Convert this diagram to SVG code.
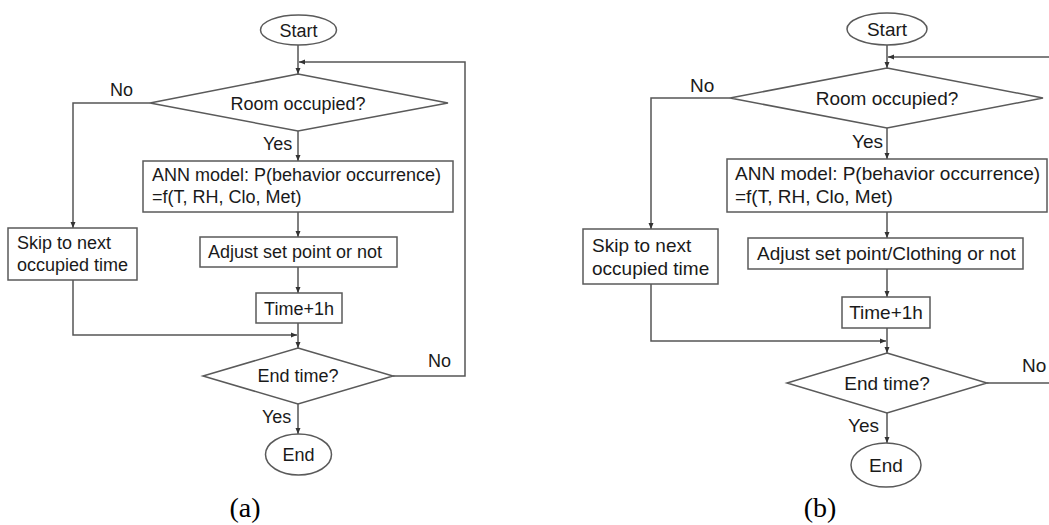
<svg xmlns="http://www.w3.org/2000/svg" width="1049" height="525" viewBox="0 0 1049 525">
<style>
.s{fill:#fff;stroke:#5a5a5a;stroke-width:1.5}
.c{fill:none;stroke:#555;stroke-width:1.5}
.t{font-family:"Liberation Sans",Arial,sans-serif;font-size:18px;fill:#1a1a1a}
.t2{font-family:"Liberation Sans",Arial,sans-serif;font-size:19px;fill:#1a1a1a}
.m{text-anchor:middle}
.cap{font-family:"Liberation Serif","Times New Roman",serif;font-size:28px;fill:#000;text-anchor:middle}
</style>
<defs>
<marker id="ah" markerWidth="6" markerHeight="6" refX="6" refY="3" orient="auto" markerUnits="userSpaceOnUse">
<path d="M0,0.5 L6,3 L0,5.5 z" fill="#333"/>
</marker>
</defs>
<rect width="1049" height="525" fill="#fff"/>

<!-- Diagram (a) -->
<g id="a-connectors">
<path class="c" d="M298,45 V74" marker-end="url(#ah)"/>
<path class="c" d="M393,376 H465 V62 H299" marker-end="url(#ah)"/>
<path class="c" d="M150,103 H73 V228" marker-end="url(#ah)"/>
<path class="c" d="M298,131 V161" marker-end="url(#ah)"/>
<path class="c" d="M298,212 V237" marker-end="url(#ah)"/>
<path class="c" d="M298,267 V293" marker-end="url(#ah)"/>
<path class="c" d="M298,323 V348" marker-end="url(#ah)"/>
<path class="c" d="M73,280 V335 H297" marker-end="url(#ah)"/>
<path class="c" d="M298,404 V434" marker-end="url(#ah)"/>
</g>
<g id="a-start"><ellipse class="s" cx="298.5" cy="30" rx="38" ry="15"/><text class="t m" x="298.5" y="36.5">Start</text></g>
<g id="a-room"><polygon class="s" points="298,74 448,103 298,131 150,103"/><text class="t m" x="298" y="109.5">Room occupied?</text></g>
<g id="a-ann"><rect class="s" x="143" y="161" width="310" height="51"/><text class="t" x="152" y="181">ANN model: P(behavior occurrence)</text><text class="t" x="152" y="203">=f(T, RH, Clo, Met)</text></g>
<g id="a-adjust"><rect class="s" x="200" y="237" width="197" height="30"/><text class="t" x="208" y="258">Adjust set point or not</text></g>
<g id="a-time"><rect class="s" x="256" y="293" width="86" height="30"/><text class="t m" x="299" y="315">Time+1h</text></g>
<g id="a-skip"><rect class="s" x="8" y="228" width="129" height="52"/><text class="t" x="17" y="249">Skip to next</text><text class="t" x="17" y="271">occupied time</text></g>
<g id="a-endtime"><polygon class="s" points="298,348 393,376 298,404 203,376"/><text class="t m" x="298" y="382">End time?</text></g>
<g id="a-end"><ellipse class="s" cx="298.5" cy="454.5" rx="33" ry="20.5"/><text class="t m" x="298.5" y="461">End</text></g>
<g id="a-labels">
<text class="t" x="110" y="96">No</text>
<text class="t" x="263" y="150">Yes</text>
<text class="t" x="428" y="367">No</text>
<text class="t" x="262" y="423">Yes</text>
<text class="cap" x="245" y="517">(a)</text>
</g>

<!-- Diagram (b) -->
<g id="b-connectors">
<path class="c" d="M887,45 V68" marker-end="url(#ah)"/>
<path class="c" d="M1049,57 H888" marker-end="url(#ah)"/>
<path class="c" d="M987,383 H1049"/>
<path class="c" d="M730,98 H651 V229" marker-end="url(#ah)"/>
<path class="c" d="M887,128 V159" marker-end="url(#ah)"/>
<path class="c" d="M887,212 V238" marker-end="url(#ah)"/>
<path class="c" d="M887,269 V297" marker-end="url(#ah)"/>
<path class="c" d="M887,328 V353" marker-end="url(#ah)"/>
<path class="c" d="M651,284 V341 H886" marker-end="url(#ah)"/>
<path class="c" d="M887,413 V443" marker-end="url(#ah)"/>
</g>
<g id="b-start"><ellipse class="s" cx="887" cy="29" rx="40" ry="16"/><text class="t2 m" x="887" y="35.5">Start</text></g>
<g id="b-room"><polygon class="s" points="887,68 1043,98 887,128 730,98"/><text class="t2 m" x="887" y="104.5">Room occupied?</text></g>
<g id="b-ann"><rect class="s" x="727" y="159" width="320" height="53"/><text class="t2" x="735" y="180">ANN model: P(behavior occurrence)</text><text class="t2" x="735" y="203">=f(T, RH, Clo, Met)</text></g>
<g id="b-adjust"><rect class="s" x="748" y="238" width="275" height="31"/><text class="t2" x="757" y="260">Adjust set point/Clothing or not</text></g>
<g id="b-time"><rect class="s" x="842" y="297" width="88" height="31"/><text class="t2 m" x="886" y="319">Time+1h</text></g>
<g id="b-skip"><rect class="s" x="583" y="229" width="135" height="55"/><text class="t2" x="592" y="252">Skip to next</text><text class="t2" x="592" y="275">occupied time</text></g>
<g id="b-endtime"><polygon class="s" points="887,353 987,383 887,413 787,383"/><text class="t2 m" x="887" y="390">End time?</text></g>
<g id="b-end"><ellipse class="s" cx="886" cy="465" rx="35" ry="22"/><text class="t2 m" x="886" y="472">End</text></g>
<g id="b-labels">
<text class="t2" x="690" y="92">No</text>
<text class="t2" x="852" y="148">Yes</text>
<text class="t2" x="1022" y="372">No</text>
<text class="t2" x="848" y="432">Yes</text>
<text class="cap" x="820" y="517">(b)</text>
</g>
</svg>
